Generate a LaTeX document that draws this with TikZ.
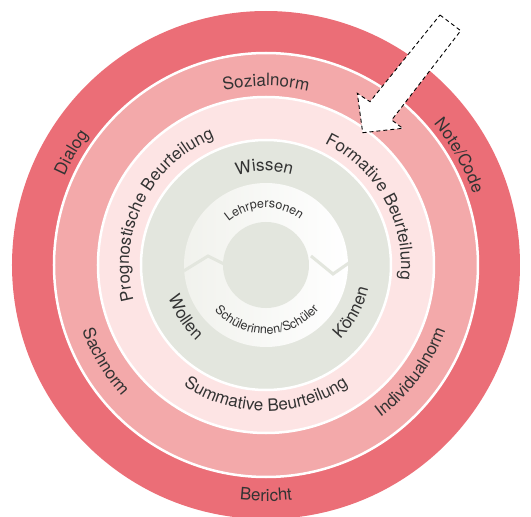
\documentclass[tikz,border=0pt]{standalone}
\usepackage{fontspec}
\setmainfont{TeX Gyre Heros}
\usetikzlibrary{decorations.text}
\definecolor{ringouter}{HTML}{EB6E77}
\definecolor{ringnorm}{HTML}{F3A9AA}
\definecolor{ringform}{HTML}{FDE4E4}
\definecolor{ringcore}{HTML}{E3E6DE}
\definecolor{ringpale}{HTML}{F1F2ED}
\definecolor{labeltext}{HTML}{333333}
\tikzstyle{ring} = [draw=white, line width=2.5pt]
\tikzstyle{zigzag} = [draw=ringcore, line width=3pt, line join=miter]
\tikzstyle{bigarrow} = [draw=black, fill=white, dash pattern=on 4pt off 3pt, line width=0.9pt, line join=miter]
\newcommand{\uptext}[4]{\path[decorate,decoration={text along path,text align=center,text={|\fontsize{#3}{#3}\selectfont\color{labeltext}|#4}}] ({#1+70}:#2) arc[start angle={#1+70},end angle={#1-70},radius=#2];}
\newcommand{\downtext}[4]{\path[decorate,decoration={text along path,text align=center,text={|\fontsize{#3}{#3}\selectfont\color{labeltext}|#4}}] ({#1-70}:#2) arc[start angle={#1-70},end angle={#1+70},radius=#2];}

\begin{document}
\begin{tikzpicture}[x=1pt,y=1pt]
	\useasboundingbox (-266,-252) rectangle (265,265);

	\fill[ringouter] (0,0) circle (254);
	\filldraw[ring, fill=ringnorm] (0,0) circle (212);
	\filldraw[ring, fill=ringform] (0,0) circle (168);
	\filldraw[ring, fill=ringcore] (0,0) circle (125);
	\shade[left color=ringpale, right color=white] (0,0) circle (82);

	\begin{scope}
	  \clip (0,0) circle (82);
	  \draw[zigzag] (-84,-7) -- (-58,9) -- (-36,-2);
	  \draw[zigzag] (45,9) -- (67,-9) -- (90,7);
	\end{scope}
	\fill[ringcore] (0,0) circle (43);

	\coordinate (shaftA) at (174,250);
	\coordinate (shaftB) at (194.7,234.3);
	\coordinate (neckB) at (125.7,145);
	\coordinate (barbB) at (136.7,136.7);
	\coordinate (tip) at (96.7,132.3);
	\coordinate (barbA) at (91.3,171.7);
	\coordinate (neckA) at (104,163.3);
	\draw[bigarrow] (shaftA) -- (shaftB) -- (neckB) -- (barbB) -- (tip) -- (barbA) -- (neckA) -- cycle;

	\uptext{150}{220}{17}{Dialog}
	\uptext{29.5}{219}{17}{Note/Code}
	\downtext{270}{236}{17}{Bericht}

	\uptext{90}{179}{17}{Sozialnorm}
	\downtext{211}{195}{17}{Sachnorm}
	\downtext{323.5}{191}{17}{Individualnorm}

	\uptext{153.5}{137}{17}{Prognostische Beurteilung}
	\uptext{29}{135}{17}{Formative Beurteilung}
	\downtext{270}{146}{17}{Summative Beurteilung}

	\uptext{91}{94}{17}{Wissen}
	\downtext{213}{103}{17}{Wollen}
	\downtext{331}{105}{17}{Können}

	\uptext{92}{57}{12.5}{Lehrpersonen}
	\downtext{271}{69}{12.5}{Schülerinnen/Schüler}
\end{tikzpicture}
\end{document}
